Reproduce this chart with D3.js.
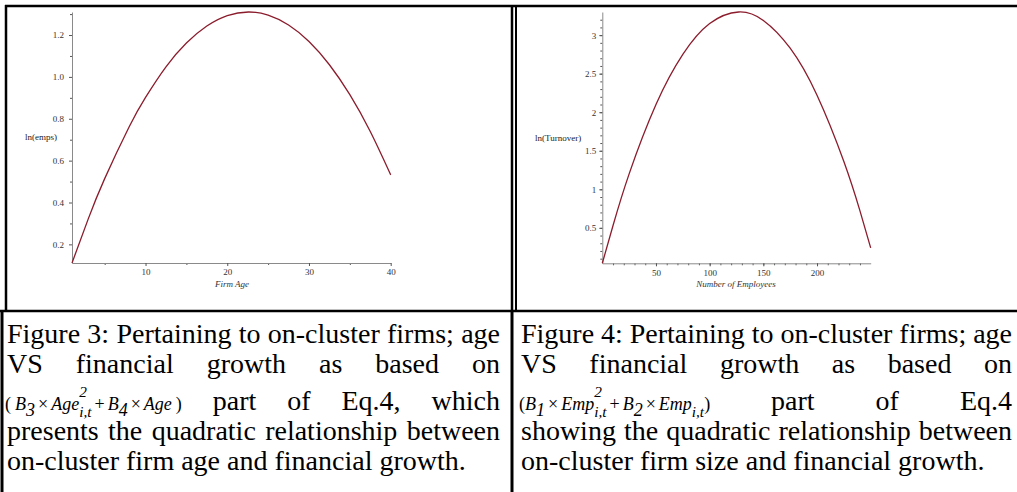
<!DOCTYPE html>
<html>
<head>
<meta charset="utf-8">
<script src="https://cdn.jsdelivr.net/npm/d3@7"></script>
<style>
  body { margin: 0; background: #fff; }
  svg { display: block; }
</style>
</head>
<body>
<svg id="fig" width="1017" height="492"></svg>
<script>
// Figure 3: firm age vs ln(emps)
var ageX = [1, 3, 5, 8, 10, 12.5, 15, 17.5, 20, 22.6, 25, 27.5, 30, 32.5, 35, 37.5, 40];
var ageY = [0.111, 0.323, 0.514, 0.762, 0.902, 1.048, 1.162, 1.243, 1.293, 1.31, 1.295, 1.248, 1.169, 1.058, 0.915, 0.739, 0.532];
var ageXTicks = [10, 20, 30, 40];
var ageYTicks = [0.2, 0.4, 0.6, 0.8, 1.0, 1.2];

// Figure 4: number of employees vs ln(Turnover)
var empX = [0, 10, 25, 50, 75, 100, 127, 150, 175, 200, 225, 240, 250];
var empY = [0.04, 0.53, 1.20, 2.10, 2.75, 3.15, 3.30, 3.19, 2.83, 2.22, 1.36, 0.72, 0.24];
var empXTicks = [50, 100, 150, 200];
var empYTicks = [0.5, 1, 1.5, 2, 2.5, 3];

var captionLeft = [
  "Figure 3: Pertaining to on-cluster firms; age",
  "VS financial growth as based on",
  "part of Eq.4, which",
  "presents the quadratic relationship between",
  "on-cluster firm age and financial growth."
];
var captionRight = [
  "Figure 4: Pertaining to on-cluster firms; age",
  "VS financial growth as based on",
  "part of Eq.4",
  "showing the quadratic relationship between",
  "on-cluster firm size and financial growth."
];

var serif = "'Liberation Serif', 'Times New Roman', serif";
var svg = d3.select("#fig");

// table / image frames
var frame = svg.append("g").attr("stroke", "#000").attr("fill", "none");
function hline(x1, x2, y, w) {
  frame.append("line").attr("x1", x1).attr("x2", x2).attr("y1", y).attr("y2", y).attr("stroke-width", w);
}
function vline(x, y1, y2, w) {
  frame.append("line").attr("x1", x).attr("x2", x).attr("y1", y1).attr("y2", y2).attr("stroke-width", w);
}
hline(5, 1017, 6, 2.5);
vline(6, 5, 311, 2.5);
vline(512, 5, 311, 2.5);
vline(516, 5, 311, 2);
hline(0, 1017, 311, 2.5);
vline(2, 310, 492, 3);
vline(512, 310, 492, 3);

// one maple-style plot
function drawPlot(o) {
  var g = svg.append("g");
  var x = d3.scaleLinear().domain(d3.extent(o.xs)).range([o.left, o.right]);
  var y = d3.scaleLinear().domain(d3.extent(o.ys)).range([o.bottom, o.top]);

  // minor ticks first
  var mx = g.append("g").attr("transform", "translate(0," + o.bottom + ")")
    .call(d3.axisBottom(x).tickValues(o.xMinor).tickSize(2).tickFormat("").tickSizeOuter(0));
  var my = g.append("g").attr("transform", "translate(" + o.left + ",0)")
    .call(d3.axisLeft(y).tickValues(o.yMinor).tickSize(2).tickFormat("").tickSizeOuter(0));
  mx.select(".domain").remove();
  my.select(".domain").remove();

  g.append("g").attr("transform", "translate(0," + o.bottom + ")")
    .call(d3.axisBottom(x).tickValues(o.xTicks).tickSize(3).tickPadding(3).tickSizeOuter(0)
      .tickFormat(d3.format("d")));
  g.append("g").attr("transform", "translate(" + o.left + ",0)")
    .call(d3.axisLeft(y).tickValues(o.yTicks).tickSize(3).tickPadding(o.yPad).tickSizeOuter(0)
      .tickFormat(o.yFormat));

  g.selectAll(".domain").attr("stroke", "#8a8a8a");
  g.selectAll(".tick line").attr("stroke", "#555");
  g.selectAll(".tick text").attr("fill", "#333").attr("font-family", serif).attr("font-size", 9);

  var line = d3.line()
    .x(function(d) { return x(d[0]); })
    .y(function(d) { return y(d[1]); })
    .curve(d3.curveNatural);
  g.append("path")
    .datum(d3.zip(o.xs, o.ys))
    .attr("d", line)
    .attr("fill", "none")
    .attr("stroke", "#8b1c2c")
    .attr("stroke-width", 1.3);

  g.append("text").attr("x", o.yLabelX).attr("y", o.yLabelY)
    .attr("font-family", serif).attr("font-size", 9).attr("fill", "#222")
    .text(o.yLabel);
  g.append("text").attr("x", o.xLabelX).attr("y", o.xLabelY)
    .attr("text-anchor", "middle").attr("font-style", "italic")
    .attr("font-family", serif).attr("font-size", 9).attr("fill", "#333")
    .text(o.xLabel);
}

drawPlot({
  xs: ageX, ys: ageY, left: 72, right: 390.7, top: 12, bottom: 263,
  xTicks: ageXTicks, yTicks: ageYTicks,
  xMinor: [5, 15, 25, 35], yMinor: d3.range(3, 14, 2).map(function(v) { return v / 10; }),
  yFormat: d3.format(".1f"), yPad: 5,
  yLabel: "ln(emps)", yLabelX: 25, yLabelY: 140,
  xLabel: "Firm Age", xLabelX: 232, xLabelY: 286.5
});

drawPlot({
  xs: empX, ys: empY, left: 602.3, right: 870.7, top: 12, bottom: 263.3,
  xTicks: empXTicks, yTicks: empYTicks,
  xMinor: d3.range(10, 250, 10), yMinor: d3.range(1, 33).map(function(v) { return v / 10; }),
  yFormat: function(d) { return String(d); }, yPad: 3,
  yLabel: "ln(Turnover)", yLabelX: 535, yLabelY: 141,
  xLabel: "Number of Employees", xLabelX: 736, xLabelY: 287
});

// captions
var cap = svg.append("g").attr("font-family", serif).attr("fill", "#000");
var capSize = 28;

function wordLine(words, x0, x1, y, justify) {
  var nodes = words.map(function(w) {
    return cap.append("text").attr("y", y).attr("font-size", capSize).text(w);
  });
  var widths = nodes.map(function(n) { return n.node().getComputedTextLength(); });
  var space = capSize * 0.25;
  if (justify && words.length > 1)
    space = (x1 - x0 - d3.sum(widths)) / (words.length - 1);
  var cx = x0;
  nodes.forEach(function(n, i) { n.attr("x", cx); cx += widths[i] + space; });
}

// equation: one text element, pieces placed as tspans
function drawEq(parts, x0, y, size) {
  var t = cap.append("text").attr("font-size", size).attr("font-style", "italic");
  var cx = x0;
  parts.forEach(function(p) {
    if (p.gap) { cx += p.gap; return; }
    if (p.stack) {
      var sup = t.append("tspan").attr("x", cx).attr("y", y - 13)
        .attr("font-size", size * 0.85).text(p.stack[0]);
      var sub = t.append("tspan").attr("x", cx).attr("y", y + 7)
        .attr("font-size", size * 0.85).text(p.stack[1]);
      cx += Math.max(sup.node().getComputedTextLength(), sub.node().getComputedTextLength());
      return;
    }
    var s = t.append("tspan").attr("x", cx).attr("y", y + (p.dy || 0))
      .attr("font-size", p.size ? size * p.size : size)
      .attr("font-style", p.up ? "normal" : "italic").text(p.t);
    cx += s.node().getComputedTextLength();
  });
  return cx;
}

var eqLeft = [
  {t: "(", up: true}, {gap: 4}, {t: "B"}, {t: "3", dy: 6}, {gap: 3}, {t: "\u00d7", up: true}, {gap: 3},
  {t: "Age"}, {stack: ["2", "i,t"]}, {gap: 3}, {t: "+", up: true}, {gap: 3},
  {t: "B"}, {t: "4", dy: 6}, {gap: 3}, {t: "\u00d7", up: true}, {gap: 3},
  {t: "Age"}, {gap: 4}, {t: ")", up: true}
];
var eqRight = [
  {t: "(", up: true}, {t: "B"}, {t: "1", dy: 6}, {gap: 3}, {t: "\u00d7", up: true}, {gap: 3},
  {t: "Emp"}, {stack: ["2", "i,t"]}, {gap: 3}, {t: "+", up: true}, {gap: 3},
  {t: "B"}, {t: "2", dy: 6}, {gap: 3}, {t: "\u00d7", up: true}, {gap: 3},
  {t: "Emp"}, {t: "i,t", dy: 7, size: 0.85}, {t: ")", up: true}
];

var baselines = [343, 373, 410, 440, 470];

function caption(lines, eq, x0, x1) {
  wordLine(lines[0].split(" "), x0, x1, baselines[0], true);
  wordLine(lines[1].split(" "), x0, x1, baselines[1], true);
  var eqEnd = drawEq(eq, x0 - 2, baselines[2], 18);
  var words = lines[2].split(" ");
  // the equation counts as the first word of the justified line
  var nodes = words.map(function(w) {
    return cap.append("text").attr("y", baselines[2]).attr("font-size", capSize).text(w);
  });
  var widths = nodes.map(function(n) { return n.node().getComputedTextLength(); });
  var space = (x1 - eqEnd - d3.sum(widths)) / words.length;
  var cx = eqEnd + space;
  nodes.forEach(function(n, i) { n.attr("x", cx); cx += widths[i] + space; });
  wordLine(lines[3].split(" "), x0, x1, baselines[3], true);
  wordLine(lines[4].split(" "), x0, x1, baselines[4], false);
}

caption(captionLeft, eqLeft, 7, 500);
caption(captionRight, eqRight, 521, 1012);
</script>
</body>
</html>
